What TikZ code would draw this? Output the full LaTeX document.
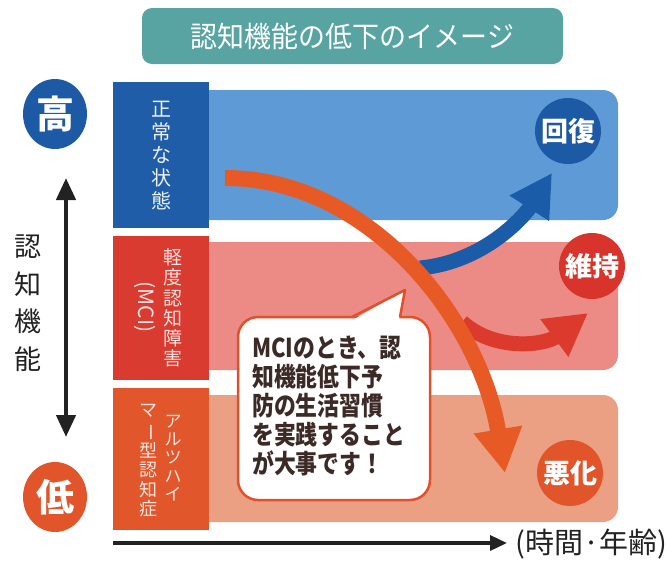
\documentclass[tikz,border=0pt]{standalone}
\usepackage{fontspec}
\newfontfamily\jp{Noto Sans CJK JP}
\usetikzlibrary{arrows.meta,shapes.geometric}
\definecolor{titleteal}{HTML}{58A4A2}
\definecolor{dblue}{HTML}{1F5DA8}
\definecolor{lblue}{HTML}{5E9BD6}
\definecolor{cblue}{HTML}{1D5AA6}
\definecolor{dred}{HTML}{D93B30}
\definecolor{lpink}{HTML}{EC8B86}
\definecolor{cred}{HTML}{D9342B}
\definecolor{dorange}{HTML}{E2562C}
\definecolor{lsalmon}{HTML}{EBA083}
\definecolor{corange}{HTML}{E2552A}
\definecolor{bigarrow}{HTML}{E85A25}
\definecolor{redarrow}{HTML}{DB3A2C}
\definecolor{blarrow}{HTML}{1A5CA8}
\definecolor{bubbleline}{HTML}{E0502A}
\definecolor{msgtext}{HTML}{3B2A25}
\definecolor{axisdark}{HTML}{222222}
\newcommand\msgline[1]{\scalebox{0.84}[1]{#1}}
\begin{document}
\begin{tikzpicture}[x=1pt,y=-1pt,
  titlebox/.style={fill=titleteal, rounded corners=10pt, minimum width=421pt, minimum height=56pt, inner sep=0pt, text=white, font=\jp\fontsize{29}{29}\selectfont},
  bigcirc/.style={ellipse, minimum width=64pt, minimum height=70pt, inner sep=0pt, text=white, font=\jp\bfseries\fontsize{38}{38}\selectfont},
  rcirc/.style={circle, minimum size=66pt, inner sep=0pt, text=white, font=\jp\bfseries\fontsize{27}{27}\selectfont},
  coltext/.style={align=center, inner sep=0pt},
  fatarrow/.style={line width=15pt, -{Triangle[width=44pt,length=42pt]}},
]
\useasboundingbox (0,0) rectangle (669,560);

% title
\node[titlebox] (title) at (352.5,36) {\scalebox{0.93}[1]{認知機能の低下のイメージ}};

% bands
\fill[lblue, rounded corners=15pt] (170,90) -- (618,90) -- (618,220) -- (170,220) -- cycle;
\fill[lpink, rounded corners=15pt] (170,242) -- (618,242) -- (618,370) -- (170,370) -- cycle;
\fill[lsalmon, rounded corners=15pt] (170,395) -- (618,395) -- (618,522) -- (170,522) -- cycle;

% columns
\fill[dblue] (113,82) rectangle (209,228);
\fill[dred] (113,236) rectangle (209,380);
\fill[dorange] (113,388) rectangle (209,530);

% column texts
\node[coltext, text=white!92!dblue, font=\jp\fontsize{20}{23}\selectfont] (normal) at (161,156) {正\\常\\な\\状\\態};
\node[coltext, text=white!85!dred, font=\jp\fontsize{19}{20.2}\selectfont] (mci) at (173,308) {軽\\度\\認\\知\\障\\害};
\node[coltext, text=white!85!dred, font=\jp\fontsize{21}{21}\selectfont, rotate=-90] (mciabbr) at (145,307) {(MCI)};
\node[coltext, text=white!85!dorange, font=\jp\fontsize{17}{18.2}\selectfont] (alz1) at (173,458) {ア\\ル\\ツ\\ハ\\イ};
\node[coltext, text=white!85!dorange, font=\jp\fontsize{18}{19.5}\selectfont] (alz2) at (148,461) {マ\\\rotatebox[origin=c]{-90}{ー}\\型\\認\\知\\症};

% left axis
\node[bigcirc, fill=cblue] (high) at (55,114) {高};
\node[bigcirc, fill=corange] (low) at (55,497) {低};
\coordinate (vtop) at (66,178);
\coordinate (vbot) at (66,437);
\draw[axisdark, line width=4.5pt, {Triangle[width=19pt,length=22pt]}-{Triangle[width=19pt,length=22pt]}] (vtop) -- (vbot);
\node[coltext, text=axisdark, font=\jp\fontsize{27}{37.5}\selectfont] (axislabel) at (28,303) {認\\知\\機\\能};

% right circles
\node[rcirc, fill=cblue] (recover) at (568,131) {回復};
\node[rcirc, fill=cred] (keep) at (592,266) {維持};
\node[rcirc, fill=corange] (worse) at (570,473) {悪化};

% branch arrows
\coordinate (bs) at (420,268);
\coordinate (be) at (552,173);
\draw[blarrow, fatarrow] (bs) .. controls (485,262) and (525,215) .. (be);
\coordinate (rs) at (462,322);
\coordinate (re) at (588,313);
\draw[redarrow, fatarrow] (rs) .. controls (495,352) and (545,345) .. (re);

% main arrow
\coordinate (ms) at (225,178);
\coordinate (me) at (505,473);
\draw[bigarrow, line width=16pt, -{Triangle[width=46pt,length=44pt]}] (ms) .. controls (370,178) and (480,320) .. (me);

% speech bubble
\draw[bubbleline, line width=2.5pt, fill=white, rounded corners=20pt] (238,317) rectangle (430,500);
\coordinate (tailtip) at (405,290);
\fill[white] (353.5,319.5) -- (tailtip) -- (399,319.5) -- cycle;
\draw[bubbleline, line width=2.5pt, line join=round] (352,317) -- (tailtip) -- (400,317);
\node[anchor=west, align=left, inner sep=0pt, text=msgtext, font=\jp\bfseries\fontsize{26}{29}\selectfont] (msg) at (252,406) {\msgline{MCIのとき、認}\\\msgline{知機能低下予}\\\msgline{防の生活習慣}\\\msgline{を実践すること}\\\msgline{が大事です！}};

% time axis
\coordinate (h0) at (113,543);
\coordinate (h1) at (507,543);
\draw[axisdark, line width=3.5pt, -{Triangle[width=15pt,length=17pt]}] (h0) -- (h1);
\node[anchor=west, inner sep=0pt, text=axisdark, font=\jp\fontsize{29}{29}\selectfont] (timelabel) at (515,544) {(時間·年齢)};
\end{tikzpicture}
\end{document}
